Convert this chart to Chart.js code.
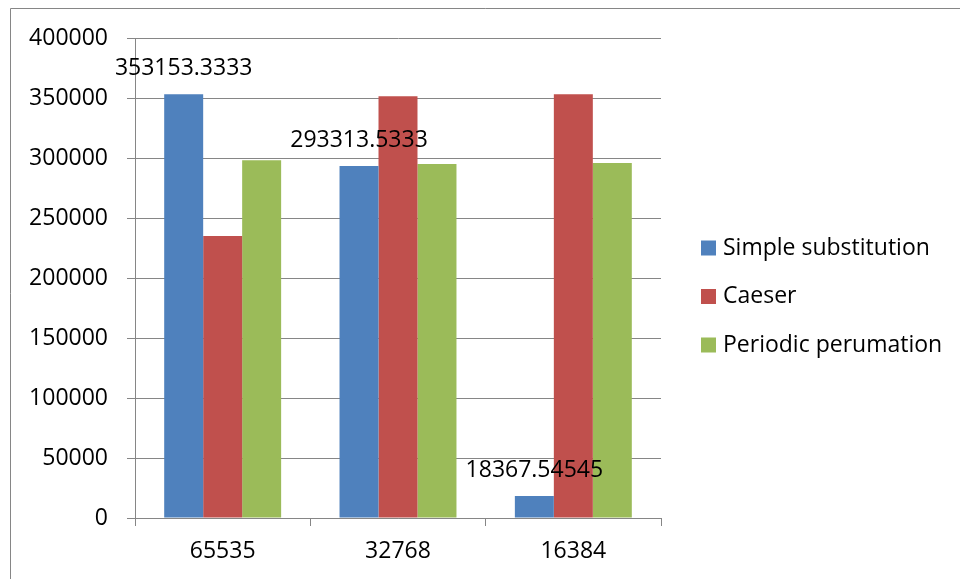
<!DOCTYPE html>
<html>
<head>
<meta charset="utf-8">
<script src="https://cdn.jsdelivr.net/npm/chart.js@4/dist/chart.umd.min.js"></script>
<style>
  html, body { margin: 0; padding: 0; background: #fff; }
  #wrap { width: 960px; height: 579px; position: relative; }
</style>
</head>
<body>
<div id="wrap"><canvas id="c" width="960" height="579"></canvas></div>
<script>
// Message length per key, three ciphers
const categories = ['65535', '32768', '16384'];
const seriesNames = ['Simple substitution', 'Caeser', 'Periodic perumation'];
const simpleSubstitution = [353153.3333, 293313.5333, 18367.54545];
const caeser = [235000, 351500, 353100];
const periodicPerumation = [298100, 295000, 295800];
const seriesColors = ['#4F81BD', '#C0504D', '#9BBB59'];
const yTicks = [0, 50000, 100000, 150000, 200000, 250000, 300000, 350000, 400000];

const FONT = '"Open Sans", "Noto Sans", sans-serif';
const FONT_SIZE = 23;
const GRID = '#868686';

// Value labels above the first series' bars
const valueLabels = {
  id: 'valueLabels',
  afterDatasetsDraw(chart) {
    const ctx = chart.ctx;
    const meta = chart.getDatasetMeta(0);
    const data = chart.data.datasets[0].data;
    ctx.save();
    ctx.font = FONT_SIZE + 'px ' + FONT;
    ctx.fillStyle = '#000';
    ctx.textAlign = 'center';
    ctx.textBaseline = 'middle';
    meta.data.forEach((bar, i) => {
      ctx.fillText(String(data[i]), bar.x, bar.y - 26);
    });
    ctx.restore();
  }
};

// Outer frame and a vertical legend on the right
const frameAndLegend = {
  id: 'frameAndLegend',
  afterDraw(chart) {
    const ctx = chart.ctx;
    ctx.save();
    ctx.strokeStyle = GRID;
    ctx.lineWidth = 1;
    ctx.beginPath();
    ctx.moveTo(10.5, 579);
    ctx.lineTo(10.5, 8.5);
    ctx.lineTo(960, 8.5);
    ctx.stroke();

    ctx.font = FONT_SIZE + 'px ' + FONT;
    ctx.textAlign = 'left';
    ctx.textBaseline = 'middle';
    const rowY = [248, 296.5, 345];
    chart.data.datasets.forEach((ds, i) => {
      ctx.fillStyle = ds.backgroundColor;
      ctx.fillRect(701, rowY[i] - 7.5, 15, 15);
      ctx.fillStyle = '#000';
      ctx.fillText(ds.label, 723, rowY[i]);
    });
    ctx.restore();
  }
};

const datasets = [simpleSubstitution, caeser, periodicPerumation].map((vals, i) => ({
  label: seriesNames[i],
  data: vals,
  backgroundColor: seriesColors[i],
  borderWidth: 0,
  barPercentage: 1.0,
  categoryPercentage: 0.667
}));

new Chart(document.getElementById('c'), {
  type: 'bar',
  data: { labels: categories, datasets },
  options: {
    responsive: false,
    animation: false,
    devicePixelRatio: 1,
    layout: { padding: { top: 38, right: 299, bottom: 0, left: 0 } },
    plugins: {
      legend: { display: false },
      tooltip: { enabled: false }
    },
    scales: {
      x: {
        grid: { drawOnChartArea: false, drawTicks: true, tickLength: 8, color: GRID, offset: true },
        border: { color: GRID, width: 1 },
        ticks: { color: '#000', font: { family: FONT, size: FONT_SIZE }, padding: 12 },
        afterFit(scale) { scale.height = 61; }
      },
      y: {
        min: 0,
        max: 400000,
        afterBuildTicks(scale) { scale.ticks = yTicks.map(v => ({ value: v })); },
        grid: { color: GRID, tickLength: 8, drawTicks: true },
        border: { color: GRID, width: 1 },
        ticks: {
          color: '#000',
          font: { family: FONT, size: FONT_SIZE },
          padding: 19,
          callback: v => String(v)
        },
        afterFit(scale) { scale.width = 135; }
      }
    }
  },
  plugins: [valueLabels, frameAndLegend]
});
</script>
</body>
</html>
